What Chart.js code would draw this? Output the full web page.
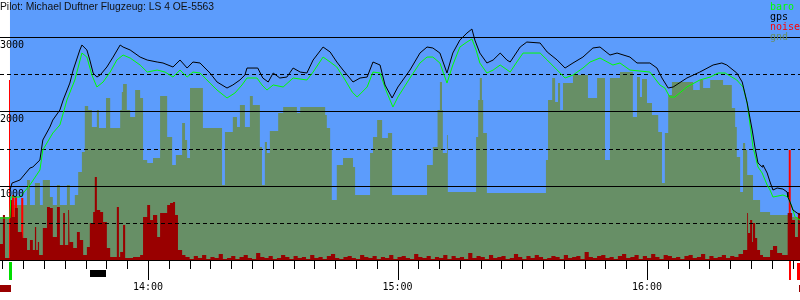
<!DOCTYPE html>
<html>
<head>
<meta charset="utf-8">
<script src="https://cdn.jsdelivr.net/npm/chart.js@4.4.1/dist/chart.umd.min.js"></script>
<style>
  html, body { margin: 0; padding: 0; background: #fff; }
  #wrap { width: 800px; height: 300px; }
</style>
</head>
<body>
<div id="wrap"><canvas id="flight" width="800" height="300"></canvas></div>
<script>
// all times in minutes after 13:00, heights in metres
const title = 'Pilot: Michael Duftner Flugzeug: LS 4 OE-5563';
const viewStart = 24.4;
const viewEnd = 216.8;
const takeoff = 26.8;

const hourTicks = [60, 120, 180];
const hourLabels = ['14:00', '15:00', '16:00'];
const heightLabels = [1000, 2000, 3000];
const solidLines = [0, 1000, 2000, 3000];
const dashedLines = [500, 1500, 2500];

const gpsTime = [26.8, 27.3, 29.2, 31.6, 32.3, 34.0, 34.7, 36.4, 37.1, 38.8,
  39.6, 41.2, 42.0, 43.6, 44.1, 45.3, 46.0, 46.8, 47.7, 48.5,
  50.1, 51.6, 53.3, 54.0, 55.7, 58.1, 59.8, 62.2, 63.6, 66.0,
  67.7, 69.4, 70.8, 72.5, 74.9, 76.6, 79.0, 80.4, 82.1, 83.3,
  83.8, 86.4, 87.6, 88.9, 90.1, 91.7, 93.4, 94.9, 96.6, 98.2,
  99.7, 102.1, 103.8, 105.4, 106.9, 109.3, 111.0, 112.7, 114.1, 115.8,
  117.0, 118.7, 120.1, 123.0, 125.4, 127.1, 128.5, 130.2, 131.9, 133.3,
  135.0, 136.7, 137.9, 138.6, 139.8, 141.5, 143.0, 144.7, 146.3, 147.1,
  149.5, 151.1, 154.3, 156.0, 158.4, 160.3, 162.2, 164.6, 167.0, 168.7,
  171.1, 172.8, 175.9, 177.6, 180.7, 182.4, 183.6, 185.1, 186.3, 189.6,
  192.7, 195.9, 198.0, 199.2, 201.6, 202.9, 204.1, 205.3, 206.0, 206.7,
  207.7, 207.9, 208.9, 209.6, 210.3, 211.3, 212.7, 213.7, 213.9, 214.4,
  215.1, 216.1, 216.8];
const gpsAlt = [942, 1036, 1077, 1238, 1252, 1346, 1615, 1790, 1884, 2019,
  2154, 2382, 2557, 2827, 2894, 2827, 2692, 2517, 2463, 2490,
  2598, 2732, 2894, 2867, 2827, 2732, 2692, 2665, 2652, 2598,
  2692, 2584, 2665, 2652, 2517, 2396, 2315, 2356, 2423, 2490,
  2584, 2584, 2450, 2396, 2517, 2450, 2463, 2584, 2530, 2517,
  2692, 2867, 2800, 2665, 2557, 2396, 2450, 2463, 2665, 2625,
  2356, 2181, 2329, 2557, 2786, 2867, 2854, 2786, 2517, 2786,
  2961, 3055, 3109, 2961, 2786, 2652, 2692, 2786, 2692, 2665,
  2867, 2934, 2921, 2800, 2692, 2584, 2652, 2732, 2854, 2867,
  2759, 2786, 2732, 2652, 2652, 2584, 2450, 2315, 2329, 2450,
  2530, 2625, 2652, 2625, 2517, 2396, 2113, 1750, 1508, 1306,
  1252, 1279, 1171, 1050, 942, 969, 955, 915, 848, 781,
  673, 633, 606];

const baroTime = [24.4, 26.8, 27.0, 29.2, 31.6, 34.0, 34.7, 37.1, 38.8, 40.5,
  42.4, 44.1, 45.3, 46.5, 47.7, 49.2, 50.9, 52.5, 54.0, 55.7,
  58.1, 59.8, 62.2, 64.1, 66.0, 67.7, 69.4, 70.8, 72.5, 74.9,
  76.6, 79.0, 80.9, 82.6, 83.8, 86.2, 87.4, 88.6, 90.1, 92.5,
  94.9, 98.2, 99.7, 102.1, 103.8, 105.4, 107.4, 109.1, 110.3, 112.7,
  114.1, 115.8, 117.2, 118.9, 120.1, 123.0, 125.4, 127.1, 128.5, 130.2,
  131.9, 133.3, 135.0, 136.7, 137.9, 138.9, 139.8, 141.5, 143.0, 144.7,
  147.1, 148.7, 150.2, 154.3, 156.0, 158.4, 160.3, 162.2, 164.6, 166.3,
  168.7, 171.8, 173.5, 175.9, 180.7, 183.1, 184.3, 185.5, 186.7, 189.6,
  192.7, 195.2, 197.1, 198.8, 201.6, 203.1, 204.1, 205.5, 206.7, 207.7,
  208.9, 209.6, 210.3, 211.5, 212.7, 213.9, 214.9, 215.6, 216.8];
const baroAlt = [565, 565, 848, 848, 1010, 1211, 1481, 1709, 1817, 2154,
  2423, 2786, 2732, 2490, 2329, 2396, 2530, 2692, 2759, 2719,
  2625, 2530, 2557, 2530, 2463, 2557, 2463, 2530, 2517, 2382,
  2288, 2181, 2248, 2356, 2450, 2450, 2356, 2288, 2356, 2329,
  2450, 2423, 2530, 2732, 2665, 2598, 2423, 2261, 2194, 2329,
  2530, 2517, 2288, 2059, 2194, 2450, 2652, 2732, 2732, 2652,
  2382, 2625, 2867, 2934, 2975, 2827, 2652, 2517, 2557, 2625,
  2530, 2665, 2786, 2786, 2692, 2557, 2450, 2490, 2584, 2665,
  2719, 2625, 2652, 2557, 2530, 2356, 2315, 2194, 2194, 2329,
  2423, 2463, 2517, 2517, 2423, 2329, 2113, 1521, 1252, 1171,
  1010, 942, 848, 861, 875, 848, 713, 579, 538];

// terrain under the glider: each value holds from its time until the next time
const gndTime = [24.4, 26.8, 30.9, 31.6, 32.8, 34.0, 34.7, 36.4, 37.1, 38.1,
  38.8, 40.5, 41.2, 42.4, 43.2, 44.1, 44.8, 45.6, 46.5, 47.7,
  48.2, 49.9, 50.9, 53.3, 53.7, 54.0, 54.9, 55.7, 56.9, 58.1,
  58.8, 59.8, 61.2, 62.9, 64.6, 65.8, 66.7, 68.2, 68.9, 69.4,
  70.1, 73.2, 77.8, 78.5, 80.4, 81.4, 82.1, 83.3, 84.5, 85.2,
  86.9, 87.4, 88.1, 88.6, 89.3, 91.3, 92.5, 95.8, 96.6, 102.6,
  103.0, 103.8, 104.2, 105.4, 106.9, 109.3, 109.8, 113.4, 114.1, 115.1,
  116.3, 117.7, 118.7, 127.1, 128.5, 129.5, 129.7, 130.2, 130.7, 130.9,
  131.9, 132.1, 138.9, 139.4, 139.8, 140.3, 140.6, 141.5, 155.7, 156.2,
  157.2, 157.9, 158.6, 159.1, 159.8, 162.2, 165.8, 168.0, 169.9, 171.1,
  173.5, 176.6, 177.6, 178.3, 178.8, 180.0, 181.2, 182.7, 183.6, 184.3,
  185.1, 186.0, 191.1, 192.7, 193.5, 195.2, 198.3, 200.4, 201.2, 201.6,
  202.4, 203.1, 203.6, 204.1, 205.5, 207.2, 209.6, 214.4, 216.8];
const gndAlt = [579, 740, 1077, 740, 1036, 740, 1077, 848, 740, 1010,
  740, 1010, 740, 875, 1184, 1454, 2073, 2019, 1790, 2019,
  1777, 2181, 1777, 2019, 2261, 2369, 2019, 1925, 2288, 2181,
  1346, 1306, 1373, 2207, 1656, 1279, 1413, 1844, 1615, 1373,
  2315, 1777, 1010, 1723, 1925, 1790, 2086, 1790, 2207, 2086,
  1521, 1010, 1588, 1440, 1736, 1979, 2059, 1979, 2059, 1952,
  1777, 1481, 808, 1279, 1373, 1252, 875, 1440, 1656, 1884,
  1642, 1709, 875, 1279, 1521, 1884, 2019, 2396, 2019, 1440,
  1683, 915, 1656, 2154, 2450, 2154, 1709, 902, 1346, 2154,
  2450, 2127, 2382, 2019, 2382, 2490, 2181, 2450, 1346, 2450,
  2530, 1925, 2463, 2194, 2436, 2113, 1952, 1723, 1036, 1709,
  2221, 2396, 2288, 2423, 2315, 2423, 2356, 2046, 1790, 1386,
  915, 1575, 1481, 1144, 808, 646, 606, 579, 579];

// engine noise level, drawn on the height scale (same step rule as terrain)
const noiseLaunchTime = [24.4, 25.1, 25.6, 26.8, 27.3, 28.0, 28.7, 29.7, 29.9, 30.9,
  31.6, 32.3, 32.8, 33.1, 33.5, 33.8, 34.7, 35.7, 36.4, 37.1,
  38.1, 38.8, 39.6, 40.0, 40.8, 41.0, 41.2, 42.0, 42.9, 43.6,
  44.4, 45.3, 46.0, 46.8, 47.2, 47.7, 48.5, 49.2, 50.1, 50.9,
  52.5, 53.0, 53.3, 54.0, 54.5, 56.4, 58.1, 58.8, 59.8, 60.5,
  61.2, 62.2, 62.9, 64.6, 65.3, 66.0, 66.5, 67.2, 68.2];
const noiseLaunch = [215, 606, 27, 808, 579, 700, 377, 713, 296, 135,
  269, 135, 444, 135, 242, 67, 431, 713, 700, 310,
  713, 202, 633, 202, 673, 175, 242, 162, 377, 269,
  67, 175, 498, 646, 1117, 673, 646, 511, 162, 40,
  713, 40, 108, 471, 27, 40, 67, 579, 740, 538,
  606, 310, 633, 740, 767, 781, 606, 135, 67];
const noiseCruiseStart = 69; // one value per minute from here
const noiseCruise = [40, 13, 54, 27, 67, 13, 40, 27, 81, 13,
  27, 54, 13, 40, 67, 27, 13, 94, 40, 27,
  54, 13, 27, 67, 40, 13, 54, 27, 40, 13,
  67, 27, 40, 13, 54, 81, 27, 13, 40, 54,
  27, 13, 67, 40, 27, 54, 13, 40, 27, 67,
  13, 40, 54, 27, 13, 81, 40, 27, 54, 13,
  40, 27, 67, 13, 54, 27, 40, 13, 94, 27,
  54, 40, 13, 67, 27, 40, 54, 13, 27, 81,
  40, 13, 54, 27, 67, 40, 13, 27, 54, 40,
  13, 67, 27, 40, 54, 13, 108, 40, 27, 54,
  67, 27, 40, 13, 54, 81, 27, 40, 67, 13,
  54, 27, 81, 40, 13, 67, 54, 27, 40, 13,
  54, 67, 27, 40, 81, 13, 54, 27, 40, 67,
  27, 54, 40, 81];
const noiseLandingTime = [203.1, 204.1, 204.3, 204.8, 205.3, 205.5, 206.0, 206.5, 207.2, 207.9,
  209.6, 210.3, 211.3, 212.5, 213.7, 213.9, 214.9, 215.6, 216.3, 216.8];
const noiseLanding = [135, 633, 363, 538, 242, 498, 296, 135, 67, 40,
  135, 188, 94, 67, 269, 633, 538, 310, 633, 633];

const peakTime = [26.55, 26.8, 27.3, 27.8, 28.0, 28.5, 29.5, 30.0, 214.1, 214.6];
const peakVal = [2423, 0, 875, 0, 848, 0, 835, 0, 1481, 0];

// timeline strip under the axis
const eventKind = ['ground', 'takeoff', 'release', 'landing', 'after', 'ground'];
const eventStart = [24.4, 26.6, 46.0, 214.1, 216.1, 216.6];
const eventEnd = [27.0, 27.3, 49.9, 214.6, 216.8, 216.8];

const SKY = '#5c9cfc';
const GND = '#678f66';
const NOISE = '#990000';
const MONO = '10px "DejaVu Sans Mono"';

const eventStyle = {
  ground: { color: NOISE, top: 285, bottom: 292 },
  takeoff: { color: '#00dd00', top: 262, bottom: 280 },
  release: { color: '#000', top: 270, bottom: 277 },
  landing: { color: '#ff0000', top: 261, bottom: 280 },
  after: { color: '#ff0000', top: 263, bottom: 280 }
};

function pts(xs, ys) {
  return xs.map((x, i) => ({ x: x, y: ys[i] }));
}

// a value holds until the next sample: pair each value with the next time
function holdPts(xs, ys) {
  const out = [];
  xs.forEach((x, i) => {
    out.push({ x: x, y: ys[i] });
    if (i + 1 < xs.length) out.push({ x: xs[i + 1], y: ys[i] });
  });
  return out;
}

const noiseTime = noiseLaunchTime
  .concat(noiseCruise.map((v, i) => noiseCruiseStart + i))
  .concat(noiseLandingTime);
const noiseVal = noiseLaunch.concat(noiseCruise).concat(noiseLanding);

function hLine(ctx, a, y, dash) {
  const yy = Math.round(y) + 0.5;
  ctx.setLineDash(dash);
  ctx.beginPath();
  ctx.moveTo(a.left, yy);
  ctx.lineTo(a.right, yy);
  ctx.stroke();
}

const flightDecor = {
  id: 'flightDecor',
  beforeDatasetsDraw(chart) {
    const { ctx, chartArea: a, scales: { x } } = chart;
    const left = x.getPixelForValue(takeoff);
    ctx.save();
    ctx.fillStyle = SKY;
    ctx.fillRect(left, a.top, a.right - left, a.bottom - a.top);
    ctx.restore();
  },
  afterDatasetDraw(chart, args) {
    if (args.index !== 2) return; // grid sits over terrain and noise, under the tracks
    const { ctx, chartArea: a, scales: { y } } = chart;
    ctx.save();
    ctx.strokeStyle = '#000';
    ctx.lineWidth = 1;
    solidLines.forEach(v => hLine(ctx, a, y.getPixelForValue(v), []));
    dashedLines.forEach(v => hLine(ctx, a, y.getPixelForValue(v), [4, 3]));
    ctx.restore();
  },
  afterDraw(chart) {
    const { ctx, chartArea: a, scales: { x, y } } = chart;
    ctx.save();

    // time ticks
    ctx.strokeStyle = '#000';
    ctx.lineWidth = 1;
    ctx.setLineDash([]);
    for (let m = Math.ceil(viewStart / 5) * 5; m <= viewEnd; m += 5) {
      const px = Math.round(x.getPixelForValue(m)) + 0.5;
      const len = m % 60 === 0 ? 19 : 8;
      ctx.beginPath();
      ctx.moveTo(px, a.bottom + 1);
      ctx.lineTo(px, a.bottom + 1 + len);
      ctx.stroke();
    }

    ctx.font = MONO;
    ctx.fillStyle = '#000';
    ctx.textAlign = 'center';
    ctx.textBaseline = 'alphabetic';
    hourTicks.forEach((m, i) => {
      ctx.fillText(hourLabels[i], x.getPixelForValue(m), a.bottom + 30);
    });

    // events
    eventKind.forEach((k, i) => {
      const s = eventStyle[k];
      const x0 = Math.round(x.getPixelForValue(eventStart[i]));
      const x1 = Math.max(x0 + 1, Math.round(x.getPixelForValue(eventEnd[i])));
      ctx.fillStyle = s.color;
      ctx.fillRect(x0, s.top, x1 - x0, s.bottom - s.top);
    });

    // height labels
    ctx.fillStyle = '#000';
    ctx.textAlign = 'left';
    heightLabels.forEach(v => {
      ctx.fillText(String(v), 0, Math.round(y.getPixelForValue(v)) + 11);
    });

    // title
    ctx.font = '10.3px "Liberation Sans"';
    ctx.fillStyle = '#111';
    ctx.fillText(title, 0, 10);

    // legend
    ctx.font = MONO;
    const names = ['baro', 'gps', 'noise', 'gnd'];
    const cols = ['#00ff00', '#000', '#ff0000', GND];
    names.forEach((n, i) => {
      ctx.fillStyle = cols[i];
      ctx.fillText(n, 770, 10 + i * 10);
    });
    ctx.restore();
  }
};

const areaStyle = { fill: 'origin', borderColor: 'rgba(0,0,0,0)', borderWidth: 0, pointRadius: 0 };

new Chart(document.getElementById('flight'), {
  type: 'line',
  data: {
    datasets: [
      { label: 'gps', data: pts(gpsTime, gpsAlt), borderColor: '#000', borderWidth: 1, pointRadius: 0, fill: false, order: 0 },
      { label: 'baro', data: pts(baroTime, baroAlt), borderColor: '#00ff00', borderWidth: 1, pointRadius: 0, fill: false, order: 1 },
      Object.assign({ label: 'noise', data: holdPts(noiseTime, noiseVal), backgroundColor: NOISE, order: 2 }, areaStyle),
      Object.assign({ label: 'noise peak', data: holdPts(peakTime, peakVal), backgroundColor: '#ff0000', order: 3 }, areaStyle),
      Object.assign({ label: 'gnd', data: holdPts(gndTime, gndAlt), backgroundColor: GND, order: 4 }, areaStyle)
    ]
  },
  options: {
    responsive: false,
    animation: false,
    devicePixelRatio: 1,
    layout: { padding: { left: 0, right: 0, top: 0, bottom: 40 } },
    elements: { line: { tension: 0 } },
    scales: {
      x: { type: 'linear', min: viewStart, max: viewEnd, display: false },
      y: { min: 0, max: 3500, display: false }
    },
    plugins: { legend: { display: false }, tooltip: { enabled: false } }
  },
  plugins: [flightDecor]
});
</script>
</body>
</html>
